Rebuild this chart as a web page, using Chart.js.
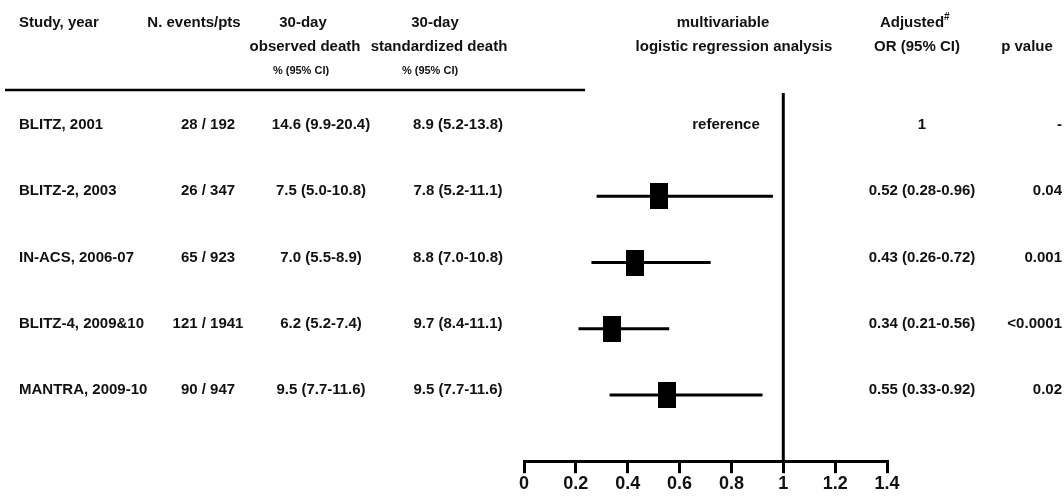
<!DOCTYPE html>
<html lang="en">
<head>
<meta charset="UTF-8">
<title>Forest plot</title>
<script src="https://cdn.jsdelivr.net/npm/chart.js"></script>
<style>
    body { margin: 0; background: #fff; }
    .wrap { position: relative; width: 1064px; height: 496px; }
</style>
</head>
<body>
<div class="wrap"><canvas id="forest"></canvas></div>
<script>
// ---------- data ----------
const studies = ['BLITZ, 2001', 'BLITZ-2, 2003', 'IN-ACS, 2006-07', 'BLITZ-4, 2009&10', 'MANTRA, 2009-10'];
const eventsPts = ['28 / 192', '26 / 347', '65 / 923', '121 / 1941', '90 / 947'];
const observedDeath = ['14.6 (9.9-20.4)', '7.5 (5.0-10.8)', '7.0 (5.5-8.9)', '6.2 (5.2-7.4)', '9.5 (7.7-11.6)'];
const standardizedDeath = ['8.9 (5.2-13.8)', '7.8 (5.2-11.1)', '8.8 (7.0-10.8)', '9.7 (8.4-11.1)', '9.5 (7.7-11.6)'];
const oddsRatio = [1, 0.52, 0.43, 0.34, 0.55];
const ciLow = [null, 0.28, 0.26, 0.21, 0.33];
const ciHigh = [null, 0.96, 0.72, 0.56, 0.92];
const pValues = ['-', '0.04', '0.001', '<0.0001', '0.02'];
const xTicks = [0, 0.2, 0.4, 0.6, 0.8, 1, 1.2, 1.4];

const FONT = '"Liberation Sans", Arial, sans-serif';
const INK = '#111';
const Y_MIN = -0.56, Y_MAX = 5.0;

// black box used as the point marker (a bit taller than wide)
const box = document.createElement('canvas');
box.width = 18; box.height = 26;
const bctx = box.getContext('2d');
bctx.fillStyle = '#000';
bctx.fillRect(0, 0, 18, 26);

const orText = oddsRatio.map((v, i) =>
    ciLow[i] === null ? '1' : v.toFixed(2) + ' (' + ciLow[i].toFixed(2) + '-' + ciHigh[i].toFixed(2) + ')');

// whisker per study
const whiskers = studies.map((s, i) => ({
    type: 'line',
    data: ciLow[i] === null ? [] : [{ x: ciLow[i], y: i }, { x: ciHigh[i], y: i }],
    borderColor: '#000',
    borderWidth: 3,
    pointRadius: 0
})).filter(d => d.data.length);

// ---------- text table drawn around the plot ----------
const tablePlugin = {
    id: 'table',
    afterDraw(chart) {
        const ctx = chart.ctx;
        const y = chart.scales.y;
        ctx.save();
        ctx.fillStyle = INK;
        ctx.textBaseline = 'middle';

        const txt = (s, x, yy, align, size) => {
            ctx.font = 'bold ' + (size || 15) + 'px ' + FONT;
            ctx.textAlign = align || 'center';
            ctx.fillText(s, x, yy);
        };

        // header
        txt('Study, year', 19, 23, 'left');
        txt('N. events/pts', 194, 23);
        txt('30-day', 303, 23);
        txt('observed death', 305, 47);
        txt('% (95% CI)', 301, 71, 'center', 11);
        txt('30-day', 435, 23);
        txt('standardized death', 439, 47);
        txt('% (95% CI)', 430, 71, 'center', 11);
        txt('multivariable', 723, 23);
        txt('logistic regression analysis', 734, 47);
        txt('Adjusted', 912, 23);
        ctx.font = 'bold 10px ' + FONT;
        ctx.textAlign = 'left';
        ctx.fillText('#', 944, 17);
        txt('OR (95% CI)', 917, 47);
        txt('p value', 1027, 47);

        // rule under header
        ctx.strokeStyle = '#000';
        ctx.lineWidth = 2.5;
        ctx.beginPath();
        ctx.moveTo(5, 90);
        ctx.lineTo(585, 90);
        ctx.stroke();

        // rows
        studies.forEach((s, i) => {
            const yy = y.getPixelForValue(i) - 5;
            txt(s, 19, yy, 'left');
            txt(eventsPts[i], 208, yy);
            txt(observedDeath[i], 321, yy);
            txt(standardizedDeath[i], 458, yy);
            if (ciLow[i] === null) txt('reference', 726, yy);
            txt(orText[i], 922, yy);
            txt(pValues[i], 1062, yy, 'right');
        });
        ctx.restore();
    }
};

new Chart(document.getElementById('forest'), {
    data: {
        datasets: [
            ...whiskers,
            {
                type: 'line',
                data: [{ x: 1, y: Y_MIN }, { x: 1, y: Y_MAX }],
                borderColor: '#000',
                borderWidth: 3,
                pointRadius: 0
            },
            {
                type: 'scatter',
                data: oddsRatio.map((v, i) => ({ x: v, y: i })).filter((p, i) => ciLow[i] !== null),
                pointStyle: box,
                pointRadius: 10
            }
        ]
    },
    options: {
        responsive: true,
        maintainAspectRatio: false,
        animation: false,
        layout: { padding: { left: 524, right: 177, top: 93, bottom: 1 } },
        plugins: { legend: { display: false }, tooltip: { enabled: false } },
        scales: {
            x: {
                type: 'linear',
                min: 0,
                max: 1.4,
                afterBuildTicks: (axis) => { axis.ticks = xTicks.map(v => ({ value: v })); },
                grid: { drawOnChartArea: false, drawTicks: true, tickLength: 12, color: '#000', lineWidth: 3 },
                border: { display: true, color: '#000', width: 3 },
                ticks: {
                    color: INK,
                    padding: 1,
                    font: { family: FONT, size: 18, weight: 'bold', lineHeight: 1.1 },
                    callback: (v) => String(Math.round(v * 10) / 10)
                }
            },
            y: {
                type: 'linear',
                min: Y_MIN,
                max: Y_MAX,
                reverse: true,
                display: false
            }
        }
    },
    plugins: [tablePlugin]
});
</script>
</body>
</html>
